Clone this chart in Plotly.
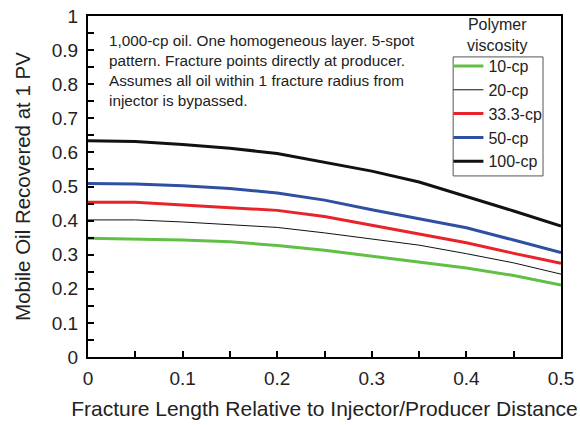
import plotly.graph_objects as go

# Fracture length relative to injector/producer distance
frac_len = [0.0, 0.05, 0.10, 0.15, 0.20, 0.25, 0.30, 0.35, 0.40, 0.45, 0.50]

# Mobile oil recovered at 1 PV for each polymer viscosity
rec_10cp = [0.348, 0.346, 0.343, 0.338, 0.327, 0.313, 0.295, 0.277, 0.261, 0.239, 0.211]
rec_20cp = [0.402, 0.402, 0.396, 0.389, 0.380, 0.364, 0.347, 0.328, 0.303, 0.276, 0.243]
rec_33cp = [0.454, 0.454, 0.446, 0.439, 0.430, 0.412, 0.386, 0.362, 0.335, 0.304, 0.275]
rec_50cp = [0.509, 0.507, 0.502, 0.494, 0.481, 0.460, 0.432, 0.406, 0.379, 0.343, 0.306]
rec_100cp = [0.634, 0.632, 0.623, 0.612, 0.597, 0.571, 0.545, 0.513, 0.471, 0.428, 0.384]

series_names = ["10-cp", "20-cp", "33.3-cp", "50-cp", "100-cp"]
series_values = [rec_10cp, rec_20cp, rec_33cp, rec_50cp, rec_100cp]
series_colors = ["#62bf45", "#111111", "#e8232a", "#2f4fa3", "#111111"]
series_widths = [3, 1, 3, 3, 3]

FONT = "Liberation Sans, Arial, sans-serif"
TXT = "#222222"

fig = go.Figure()
for name, vals, col, w in zip(series_names, series_values, series_colors, series_widths):
    fig.add_trace(go.Scatter(x=frac_len, y=vals, mode="lines", name=name,
                             line=dict(color=col, width=w)))

axis_common = dict(
    showline=True, linecolor="black", linewidth=2, mirror=True,
    ticks="inside", ticklen=6, tickwidth=2, tickcolor="black",
    showgrid=False, zeroline=False, automargin=False,
    tickfont=dict(size=19, color=TXT, family=FONT),
)
minor_ticks = dict(dtick=0.05, ticks="inside", ticklen=6, tickwidth=2, tickcolor="black")

fig.update_xaxes(range=[0, 0.5], dtick=0.1, tick0=0, minor=minor_ticks,
                 ticklabelstandoff=3,
                 title=dict(text="Fracture Length Relative to Injector/Producer Distance",
                            font=dict(size=21, color=TXT, family=FONT), standoff=14),
                 **axis_common)
fig.update_yaxes(range=[0, 1], dtick=0.1, tick0=0, minor=minor_ticks,
                 ticklabelstandoff=4,
                 title=dict(text="Mobile Oil Recovered at 1 PV",
                            font=dict(size=20.5, color=TXT, family=FONT), standoff=16),
                 **axis_common)

# Description of the simulation case
fig.add_annotation(
    xref="paper", yref="paper", x=0.040, y=0.96, xanchor="left", yanchor="top",
    align="left", showarrow=False,
    text="1,000-cp oil. One homogeneous layer. 5-spot<br>pattern. Fracture points directly at producer.<br>"
         "Assumes all oil within 1 fracture radius from<br>injector is bypassed.",
    font=dict(size=15.3, color=TXT, family=FONT),
)

# Legend heading and frame
fig.add_annotation(
    xref="paper", yref="paper", x=0.865, y=1.007, xanchor="center", yanchor="top",
    showarrow=False, text="Polymer<br>viscosity",
    font=dict(size=16, color=TXT, family=FONT),
)
fig.add_shape(type="rect", xref="paper", yref="paper",
              x0=0.772, x1=0.962, y0=0.531, y1=0.880,
              line=dict(color="#555555", width=1), fillcolor="white", layer="below")

fig.update_layout(
    width=580, height=425,
    margin=dict(l=88, r=19, t=16, b=68),
    paper_bgcolor="white", plot_bgcolor="white",
    font=dict(family=FONT, color=TXT),
    legend=dict(x=0.762, y=0.903, xanchor="left", yanchor="top",
                bgcolor="rgba(0,0,0,0)", borderwidth=0,
                font=dict(size=16, color=TXT, family=FONT),
                itemwidth=30, tracegroupgap=0),
    showlegend=True,
)

fig.write_html("out.html")
